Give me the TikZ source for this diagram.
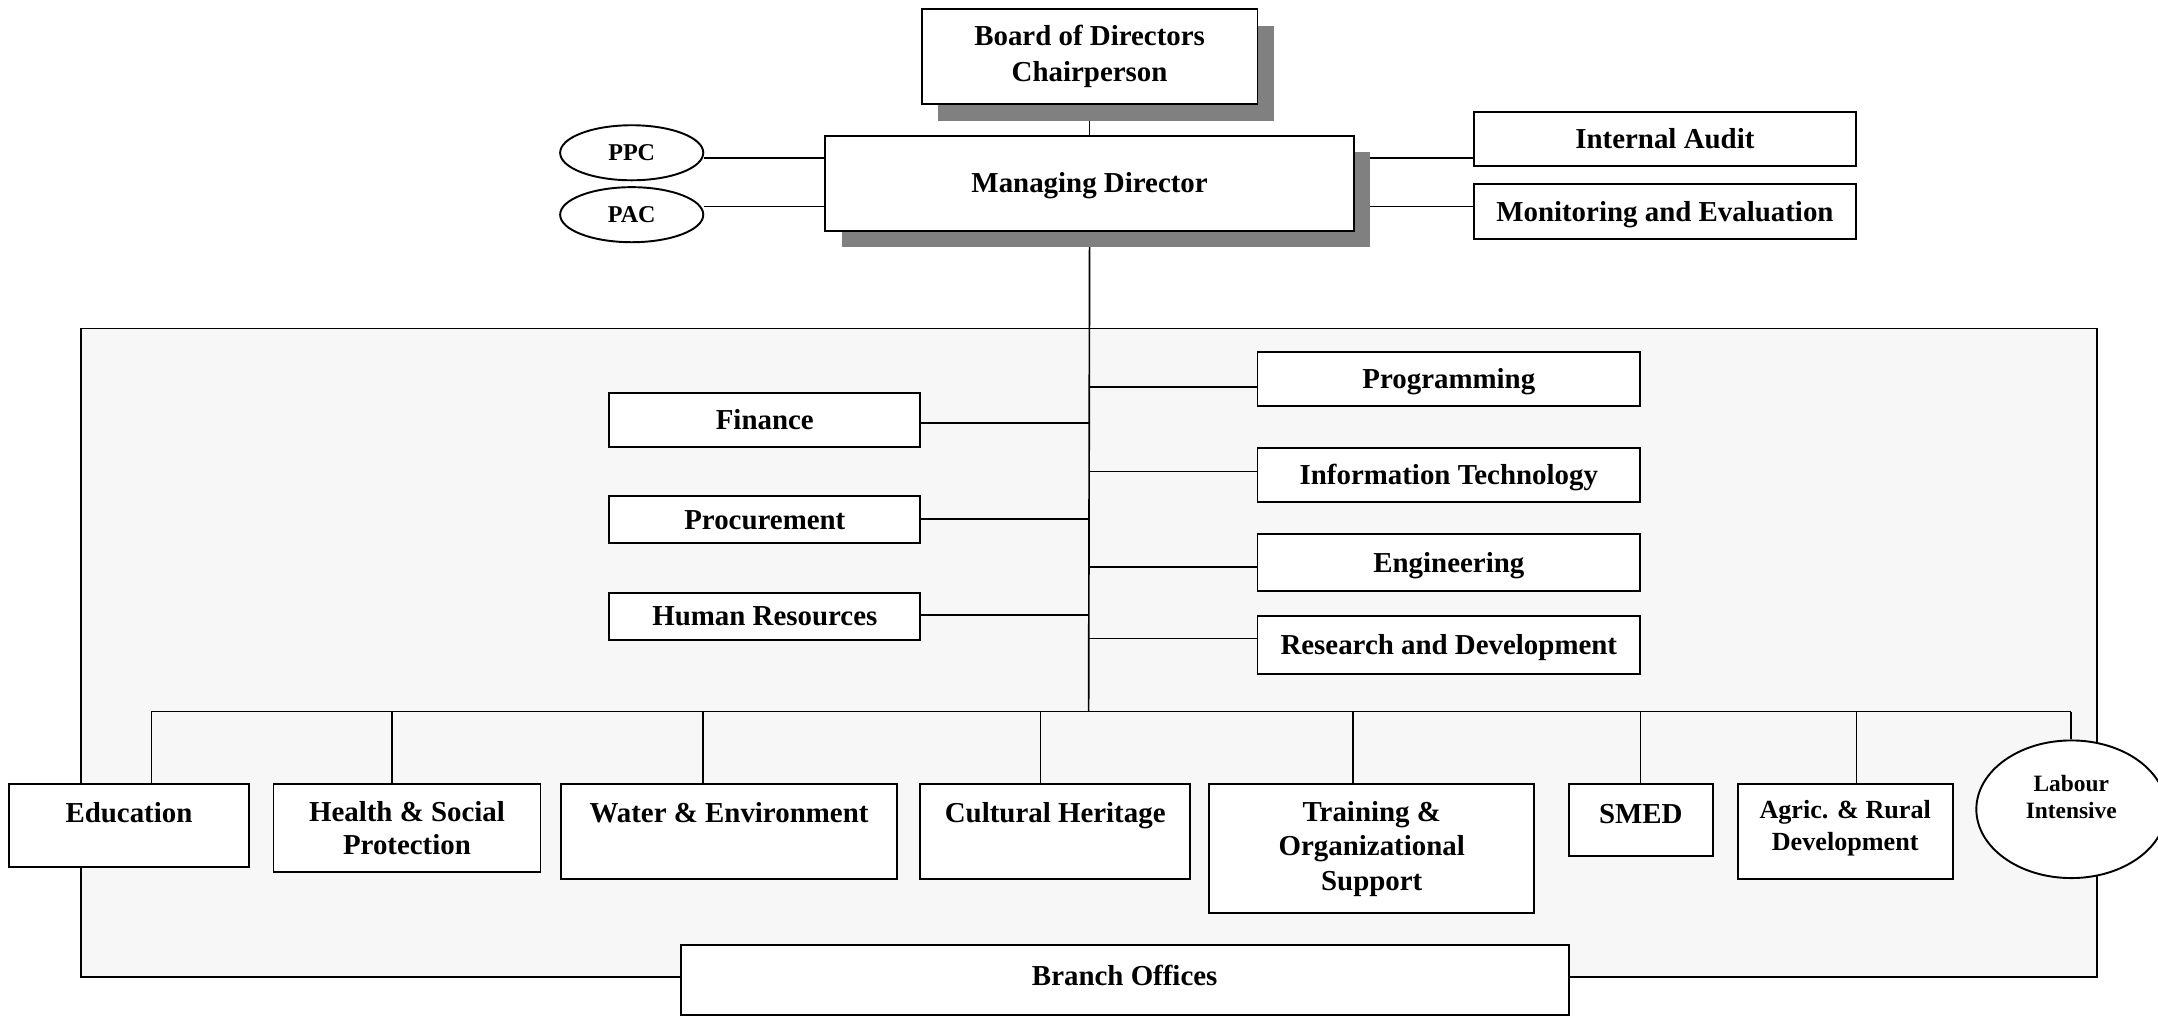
\documentclass[tikz,border=0pt]{standalone}
\usepackage{fontspec}
\setmainfont{Liberation Serif}
\usetikzlibrary{shadows,shapes.geometric}
\pgfdeclarelayer{bg}
\pgfdeclarelayer{lines}
\pgfsetlayers{bg,lines,main}
\tikzset{
  box/.style={draw, line width=0.7pt, fill=white, inner sep=0pt, align=center,
    anchor=north west, font=\bfseries\fontsize{10.5}{13}\selectfont},
  one/.style={text height=7pt, text depth=#1},
  one/.default=0pt,
  shad/.style={drop shadow={shadow xshift=6pt, shadow yshift=-6pt, fill=black!50, opacity=1}},
  oval/.style={ellipse, draw, line width=0.7pt, fill=white, inner sep=0pt,
    font=\bfseries\fontsize{8.75}{10}\selectfont},
  conn/.style={line width=0.6pt},
  panel/.style={draw, line width=0.7pt, fill=black!3, inner sep=0pt, anchor=north west}
}
\begin{document}
\begin{tikzpicture}[x=0.5pt, y=-0.5pt]
\useasboundingbox (0,0) rectangle (1568,738);

% background panel
\begin{pgfonlayer}{bg}
\node[panel, minimum width=732.5pt, minimum height=235.5pt] (panel) at (58,238) {};
\end{pgfonlayer}

% top
\node[box, shad, minimum width=122pt, minimum height=34.5pt] (board) at (669,6) {Board of Directors\\Chairperson};
\node[box, shad, one, minimum width=192pt, minimum height=34.5pt] (md) at (599,98) {Managing Director};
\node[oval, minimum width=52pt, minimum height=20pt] (ppc) at (459,111) {PPC};
\node[oval, minimum width=52pt, minimum height=20pt] (pac) at (459,156) {PAC};
\node[box, one, minimum width=139pt, minimum height=19.5pt] (audit) at (1070,81) {Internal Audit};
\node[box, one, minimum width=139pt, minimum height=20pt] (me) at (1070,133) {Monitoring and Evaluation};

% departments
\node[box, one, minimum width=113pt, minimum height=19.5pt] (finance) at (442,285) {Finance};
\node[box, one, minimum width=113pt, minimum height=17pt] (proc) at (442,360) {Procurement};
\node[box, one, minimum width=113pt, minimum height=17pt] (hr) at (442,430) {Human Resources};
\node[box, one, minimum width=139pt, minimum height=19.5pt] (prog) at (913,255) {Programming};
\node[box, one, minimum width=139pt, minimum height=19.5pt] (it) at (913,325) {Information Technology};
\node[box, one, minimum width=139pt, minimum height=21pt] (eng) at (913,387) {Engineering};
\node[box, one, minimum width=139pt, minimum height=21pt] (rd) at (913,447) {Research and Development};

% bottom row
\node[box, one=9pt, minimum width=87pt, minimum height=30pt] (edu) at (6,569) {Education};
\node[box, font=\bfseries\fontsize{10.5}{12}\selectfont, minimum width=97pt, minimum height=32pt] (health) at (198,569) {Health \& Social\\Protection};
\node[box, one=13.5pt, minimum width=122pt, minimum height=34.5pt] (water) at (407,569) {Water \& Environment};
\node[box, one=13.5pt, minimum width=98pt, minimum height=34.5pt] (cult) at (668,569) {Cultural Heritage};
\node[box, font=\bfseries\fontsize{10.5}{12.5}\selectfont, minimum width=118pt, minimum height=47pt] (train) at (878,569) {Training \&\\Organizational\\Support};
\node[box, one=4pt, minimum width=52.5pt, minimum height=26pt] (smed) at (1139,569) {SMED};
\node[box, font=\bfseries\fontsize{9.5}{11.5}\selectfont, minimum width=78pt, minimum height=34.5pt] (agric) at (1262,569)
  {\raisebox{-1pt}[0pt][0pt]{\begin{tabular}{@{}c@{}}Agric. \& Rural\\Development\end{tabular}}};
\node[oval, font=\bfseries\fontsize{8.5}{10}\selectfont, minimum width=69pt, minimum height=50pt] (labour) at (1505,588)
  {\raisebox{1.6pt}[0pt][0pt]{\begin{tabular}{@{}c@{}}Labour\\Intensive\end{tabular}}};
\node[box, one=3.5pt, minimum width=322.5pt, minimum height=25.5pt] (branch) at (494,686) {Branch Offices};

% connector points
\coordinate (ly1) at (0,115);
\coordinate (ly2) at (0,150);
\coordinate (tFin) at (791,307.5);
\coordinate (tProc) at (791,377);
\coordinate (tHr) at (791,447);
\coordinate (tProg) at (791,281);
\coordinate (tIt) at (791,342.5);
\coordinate (tEng) at (791,412);
\coordinate (tRd) at (791,464);
\coordinate (busM) at (791,517);
\coordinate (busL) at (110,517);
\coordinate (busR) at (1505,517);
\coordinate (dHealth) at (285,517);
\coordinate (dWater) at (511,517);
\coordinate (dCult) at (756,517);
\coordinate (dTrain) at (983,517);
\coordinate (dSmed) at (1192,517);
\coordinate (dAgric) at (1349,517);

\begin{pgfonlayer}{lines}
\draw[conn] (board.south) -- (md.north);
\draw[conn] (md.south) -- (busM);
\draw[conn] (ppc.east |- ly1) -- (md.west |- ly1);
\draw[conn] (pac.east |- ly2) -- (md.west |- ly2);
\draw[conn] (md.east |- ly1) -- (audit.west |- ly1);
\draw[conn] (md.east |- ly2) -- (me.west |- ly2);
\draw[conn] (tFin) -- (tFin -| finance.east);
\draw[conn] (tProc) -- (tProc -| proc.east);
\draw[conn] (tHr) -- (tHr -| hr.east);
\draw[conn] (tProg) -- (tProg -| prog.west);
\draw[conn] (tIt) -- (tIt -| it.west);
\draw[conn] (tEng) -- (tEng -| eng.west);
\draw[conn] (tRd) -- (tRd -| rd.west);
\draw[conn] (busL) -- (busR);
\draw[conn] (busL) -- (busL |- edu.north);
\draw[conn] (dHealth) -- (dHealth |- health.north);
\draw[conn] (dWater) -- (dWater |- water.north);
\draw[conn] (dCult) -- (dCult |- cult.north);
\draw[conn] (dTrain) -- (dTrain |- train.north);
\draw[conn] (dSmed) -- (dSmed |- smed.north);
\draw[conn] (dAgric) -- (dAgric |- agric.north);
\draw[conn] (busR) -- (labour.north);
\end{pgfonlayer}
\end{tikzpicture}
\end{document}
